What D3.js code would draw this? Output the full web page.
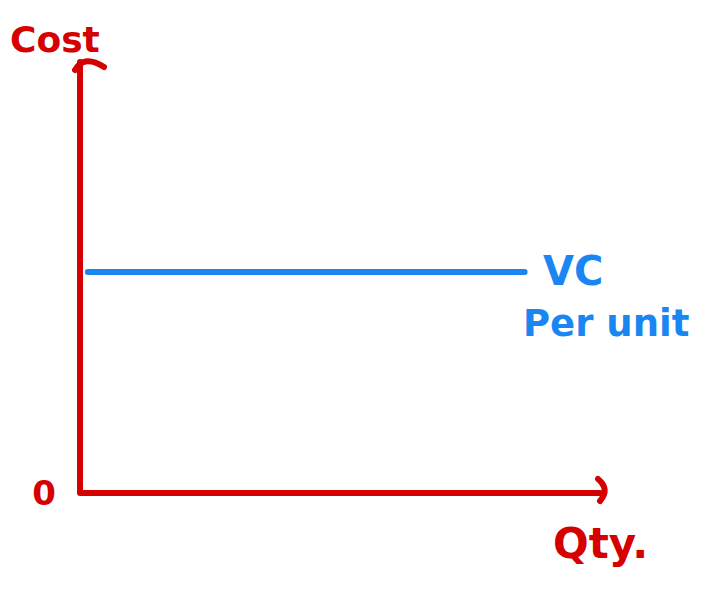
<!DOCTYPE html>
<html>
<head>
<meta charset="utf-8">
<script src="https://cdn.jsdelivr.net/npm/d3@7"></script>
<style>
  body { margin: 0; background: #fff; }
  svg { display: block; }
</style>
</head>
<body>
<svg id="chart" width="704" height="598"></svg>
<script>
const qtyDomain = [0, 10],
  costDomain = [0, 10];

// flat variable cost per unit line (qty from -> to, cost level)
const vcQty = [0.15, 8.55],
  vcCost = [5.13, 5.13];

const axisLabels = ["Cost", "Qty.", "0"],
  vcLabels = ["VC", "Per unit"];

const red = "#d50000",
  blue = "#1a86f2";

const svg = d3.select("#chart");

const x = d3.scaleLinear().domain(qtyDomain).range([80, 600]);
const y = d3.scaleLinear().domain(costDomain).range([493, 62]);

const line = d3.line().x(d => x(d[0])).y(d => y(d[1]));

// axes
svg.append("path")
  .attr("d", line([[0, costDomain[1]], [0, 0], [qtyDomain[1], 0]]))
  .attr("fill", "none")
  .attr("stroke", red)
  .attr("stroke-width", 6)
  .attr("stroke-linejoin", "round")
  .attr("stroke-linecap", "round");

// arrow tips, a bit sketchy
svg.append("path")
  .attr("d", `M${x(0) - 5},${y(costDomain[1]) + 8} Q${x(0) + 4},${y(costDomain[1]) - 8} ${x(0) + 24},${y(costDomain[1]) + 5}`)
  .attr("fill", "none").attr("stroke", red).attr("stroke-width", 6)
  .attr("stroke-linecap", "round");

svg.append("path")
  .attr("d", `M${x(qtyDomain[1]) - 2},${y(0) - 14} Q${x(qtyDomain[1]) + 10},${y(0) - 4} ${x(qtyDomain[1])},${y(0) + 8}`)
  .attr("fill", "none").attr("stroke", red).attr("stroke-width", 6)
  .attr("stroke-linecap", "round");

// VC per unit line
svg.append("path")
  .attr("d", line([[vcQty[0], vcCost[0]], [vcQty[1], vcCost[1]]]))
  .attr("fill", "none")
  .attr("stroke", blue)
  .attr("stroke-width", 6)
  .attr("stroke-linecap", "round");

const font = "'Comic Sans MS', 'DejaVu Sans', sans-serif";

svg.append("text")
  .attr("x", 10).attr("y", 52)
  .attr("font-family", font).attr("font-size", 36).attr("font-weight", "bold")
  .attr("fill", red)
  .text(axisLabels[0]);

svg.append("text")
  .attr("x", 553).attr("y", 558)
  .attr("font-family", font).attr("font-size", 42).attr("font-weight", "bold")
  .attr("fill", red)
  .text(axisLabels[1]);

svg.append("text")
  .attr("x", 44).attr("y", y(0))
  .attr("dy", "0.35em")
  .attr("text-anchor", "middle")
  .attr("font-family", font).attr("font-size", 34).attr("font-weight", "bold")
  .attr("fill", red)
  .text(axisLabels[2]);

svg.append("text")
  .attr("x", 543).attr("y", y(vcCost[1]) + 13)
  .attr("font-family", font).attr("font-size", 40).attr("font-weight", "bold")
  .attr("fill", blue)
  .text(vcLabels[0]);

svg.append("text")
  .attr("x", 523).attr("y", y(vcCost[1]) + 64)
  .attr("font-family", font).attr("font-size", 37).attr("font-weight", "bold")
  .attr("fill", blue)
  .text(vcLabels[1]);
</script>
</body>
</html>
